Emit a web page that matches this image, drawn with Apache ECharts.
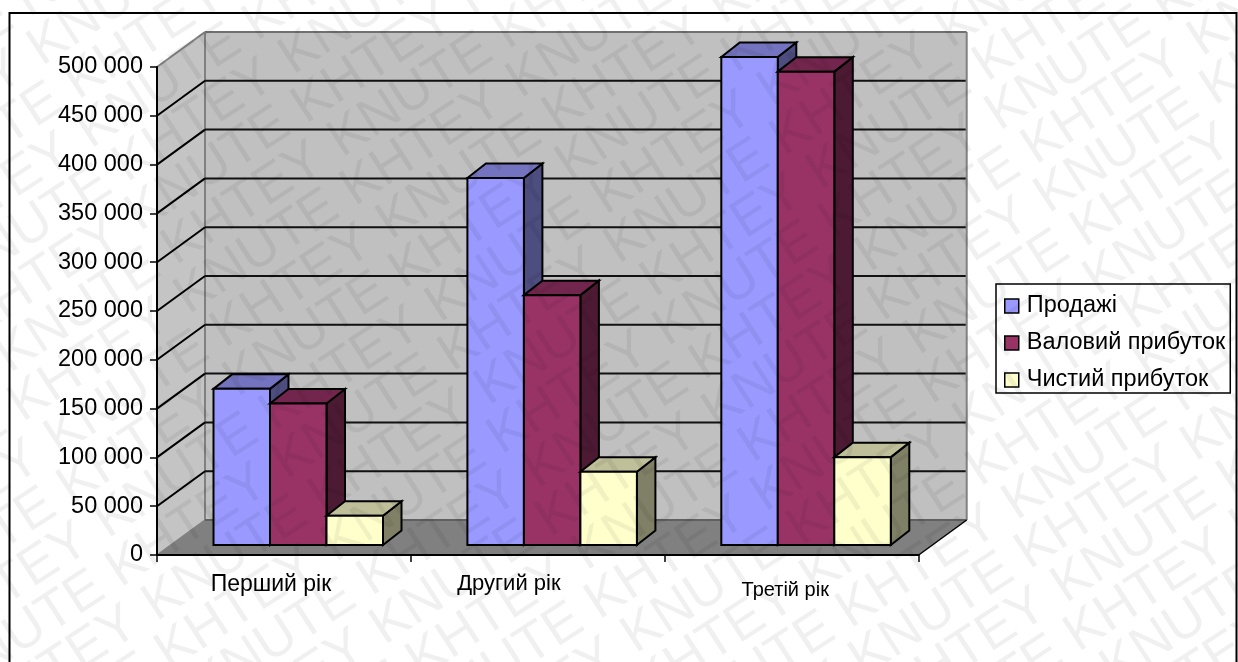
<!DOCTYPE html>
<html>
<head>
<meta charset="utf-8">
<style>html,body{margin:0;padding:0;background:#fff}#chart{width:1238px;height:662px}</style>
<script src="https://cdn.jsdelivr.net/npm/echarts@6/dist/echarts.min.js"></script>
</head>
<body>
<div id="chart"></div>
<script>
const categories = ['Перший рік', 'Другий рік', 'Третій рік'];
const sales = [160000, 376000, 500000];
const grossProfit = [145000, 256000, 485000];
const netProfit = [30000, 75000, 90000];
const seriesNames = ['Продажі', 'Валовий прибуток', 'Чистий прибуток'];
const seriesColors = ['#9999FF', '#993366', '#FFFFCC'];
const yTicks = [0, 50000, 100000, 150000, 200000, 250000, 300000, 350000, 400000, 450000, 500000];
const stampWords = ['KNUTE', 'KHTEY'];

const FONT = '"Liberation Sans", Arial, sans-serif';
// Projection of the 3D box: wall depth, bar depth and how far bars stand off the front edge
const WALL = { dx: 48, dy: -35 };
const BAR = { dx: 18.5, dy: -14.5, inset: 56.5, lift: 10, width: 56.5 };

function shade(hex, k) {
  const n = parseInt(hex.slice(1), 16);
  const c = s => Math.round(((n >> s) & 255) * k);
  return 'rgb(' + c(16) + ',' + c(8) + ',' + c(0) + ')';
}

function poly(points, fill, stroke, lineWidth) {
  return {
    type: 'polygon',
    shape: { points: points },
    style: { fill: fill, stroke: stroke || 'none', lineWidth: lineWidth || 0, lineJoin: 'miter' }
  };
}
function seg(a, b, stroke, lineWidth) {
  return {
    type: 'line',
    shape: { x1: a[0], y1: a[1], x2: b[0], y2: b[1] },
    style: { stroke: stroke, lineWidth: lineWidth }
  };
}

// Back wall, side wall and floor
function renderBox(params, api) {
  const x0 = params.coordSys.x, x1 = x0 + params.coordSys.width;
  const yTop = params.coordSys.y, yBot = yTop + params.coordSys.height;
  const bx0 = x0 + WALL.dx, bx1 = x1 + WALL.dx;
  const byTop = yTop + WALL.dy, byBot = yBot + WALL.dy;
  return {
    type: 'group',
    children: [
      poly([[bx0, byTop], [bx1, byTop], [bx1, byBot], [bx0, byBot]], '#C0C0C0'),
      poly([[x0, yTop], [bx0, byTop], [bx0, byBot], [x0, yBot]], '#C4C4C4'),
      poly([[x0, yBot], [bx0, byBot], [bx1, byBot], [x1, yBot]], '#808080'),
      seg([bx0, byTop], [bx1, byTop], '#707070', 2),
      seg([bx0, byTop], [bx0, byBot], '#808080', 2),
      seg([bx1, byTop], [bx1, byBot], '#808080', 2),
      seg([x0, yTop], [bx0, byTop], '#808080', 2),
      seg([x0, yBot], [bx0, byBot], '#808080', 1.5),
      seg([bx0, byBot], [bx1, byBot], '#606060', 2),
      seg([x1, yBot], [bx1, byBot], '#000', 1.5)
    ]
  };
}

// One gridline per tick, running along the side wall and across the back wall
function renderGridline(params, api) {
  const p = api.coord([0, api.value(0)]);
  const x0 = params.coordSys.x, x1 = x0 + params.coordSys.width;
  const back = [x0 + WALL.dx, p[1] + WALL.dy];
  return {
    type: 'group',
    children: [
      seg([x0, p[1]], back, '#000', 2),
      seg(back, [x1 + WALL.dx - 1, back[1]], '#111', 2)
    ]
  };
}

// A single extruded column; slot is the column's place in its cluster
function columnRenderer(slot, color) {
  return function (params, api) {
    const origin = api.coord([api.value(0), 0]);
    const top = api.coord([api.value(0), api.value(1)]);
    const band = api.size([1, 0])[0];
    const left = origin[0] - band / 2 + BAR.inset + slot * BAR.width;
    const right = left + BAR.width;
    const yb = origin[1] - BAR.lift, yt = top[1] - BAR.lift;
    const edge = '#000', lw = 2;
    return {
      type: 'group',
      children: [
        poly([[right, yt], [right + BAR.dx, yt + BAR.dy], [right + BAR.dx, yb + BAR.dy], [right, yb]], shade(color, 0.5), edge, lw),
        poly([[left, yt], [left + BAR.dx, yt + BAR.dy], [right + BAR.dx, yt + BAR.dy], [right, yt]], shade(color, 0.75), edge, lw),
        poly([[left, yt], [right, yt], [right, yb], [left, yb]], color, edge, lw)
      ]
    };
  };
}

function columnSeries(name, values, slot) {
  const color = seriesColors[slot];
  return {
    name: name,
    type: 'custom',
    coordinateSystem: 'cartesian2d',
    renderItem: columnRenderer(slot, color),
    itemStyle: { color: color },
    encode: { x: 0, y: 1 },
    data: values.map((v, i) => [i, v]),
    z: 3 + slot,
    silent: true
  };
}

// Faint diagonal stamp lying over the whole sheet
function stampLayer() {
  const a = 33 * Math.PI / 180;
  const ux = Math.cos(a), uy = -Math.sin(a), nx = Math.sin(a), ny = Math.cos(a);
  const rowGap = 48, period = 198, font = '54px ' + FONT;
  const startX = 1013, startY = 130;
  const out = [];
  for (let r = -14; r <= 16; r++) {
    const odd = ((r % 2) + 2) % 2 === 1;
    for (let c = -12; c <= 12; c++) {
      const along = c * period + (odd ? -14 : 0) + r * -2;
      const x = startX + along * ux + r * rowGap * nx;
      const y = startY + along * uy + r * rowGap * ny;
      if (x < -260 || x > 1300 || y < -60 || y > 800) continue;
      const idx = (((c + r) % 2) + 2) % 2 === 0 ? 1 : 0;
      out.push({
        type: 'text', x: x, y: y, rotation: a, silent: true, z: 100,
        style: { text: stampWords[idx], font: font, fill: 'rgba(0,0,0,0.06)', verticalAlign: 'alphabetic' }
      });
    }
  }
  return out;
}

const labelShift = [
  { fontSize: 23, padding: [6, 26, 0, 0] },
  { fontSize: 22, padding: [6, 58, 0, 0] },
  { fontSize: 20, padding: [13, 13, 0, 0] }
];

const chart = echarts.init(document.getElementById('chart'), null, { renderer: 'canvas' });
chart.setOption({
  animation: false,
  backgroundColor: '#fff',
  textStyle: { fontFamily: FONT },
  grid: { left: 157, top: 67, width: 761.7, height: 488, containLabel: false },
  xAxis: {
    type: 'category',
    data: categories.map((c, i) => ({ value: c, textStyle: labelShift[i] })),
    boundaryGap: true,
    z: 8,
    axisLine: { lineStyle: { color: '#000', width: 2 } },
    axisTick: { show: true, length: 7, alignWithLabel: false, lineStyle: { color: '#000', width: 1.5 } },
    axisLabel: { interval: 0, color: '#000', fontFamily: FONT, margin: 12, hideOverlap: false },
    splitLine: { show: false }
  },
  yAxis: {
    type: 'value',
    min: 0,
    max: 500000,
    interval: 50000,
    z: 8,
    axisLine: { show: true, lineStyle: { color: '#000', width: 2 } },
    axisTick: { show: true, length: 7, lineStyle: { color: '#000', width: 1.5 } },
    axisLabel: {
      color: '#000',
      fontFamily: FONT,
      fontSize: 23.5,
      margin: 14,
      formatter: v => String(v).replace(/\B(?=(\d{3})+$)/g, ' ')
    },
    splitLine: { show: false }
  },
  legend: {
    orient: 'vertical',
    left: 996,
    top: 284,
    padding: [10, 5, 1, 8],
    itemGap: 13,
    itemWidth: 14,
    itemHeight: 14,
    backgroundColor: '#fff',
    borderColor: '#000',
    borderWidth: 1.5,
    borderRadius: 0,
    selectedMode: false,
    textStyle: { color: '#000', fontFamily: FONT, fontSize: 23.5, padding: [0, 0, 0, 3] },
    data: seriesNames.map((n, i) => ({
      name: n,
      icon: 'rect',
      itemStyle: { color: seriesColors[i], borderColor: '#000', borderWidth: 1.5 }
    }))
  },
  graphic: [
    {
      type: 'rect', silent: true, z: 0,
      shape: { x: 9.5, y: 13, width: 1227, height: 700 },
      style: { fill: 'none', stroke: '#000', lineWidth: 2 }
    }
  ].concat(stampLayer()),
  series: [
    { type: 'custom', coordinateSystem: 'cartesian2d', renderItem: renderBox, data: [[0, 0]], encode: { x: 0, y: 1 }, z: 1, silent: true },
    { type: 'custom', coordinateSystem: 'cartesian2d', renderItem: renderGridline, data: yTicks.slice(1, -1).map(t => [t]), encode: { y: 0 }, z: 2, silent: true },
    columnSeries(seriesNames[0], sales, 0),
    columnSeries(seriesNames[1], grossProfit, 1),
    columnSeries(seriesNames[2], netProfit, 2)
  ]
});
</script>
</body>
</html>
